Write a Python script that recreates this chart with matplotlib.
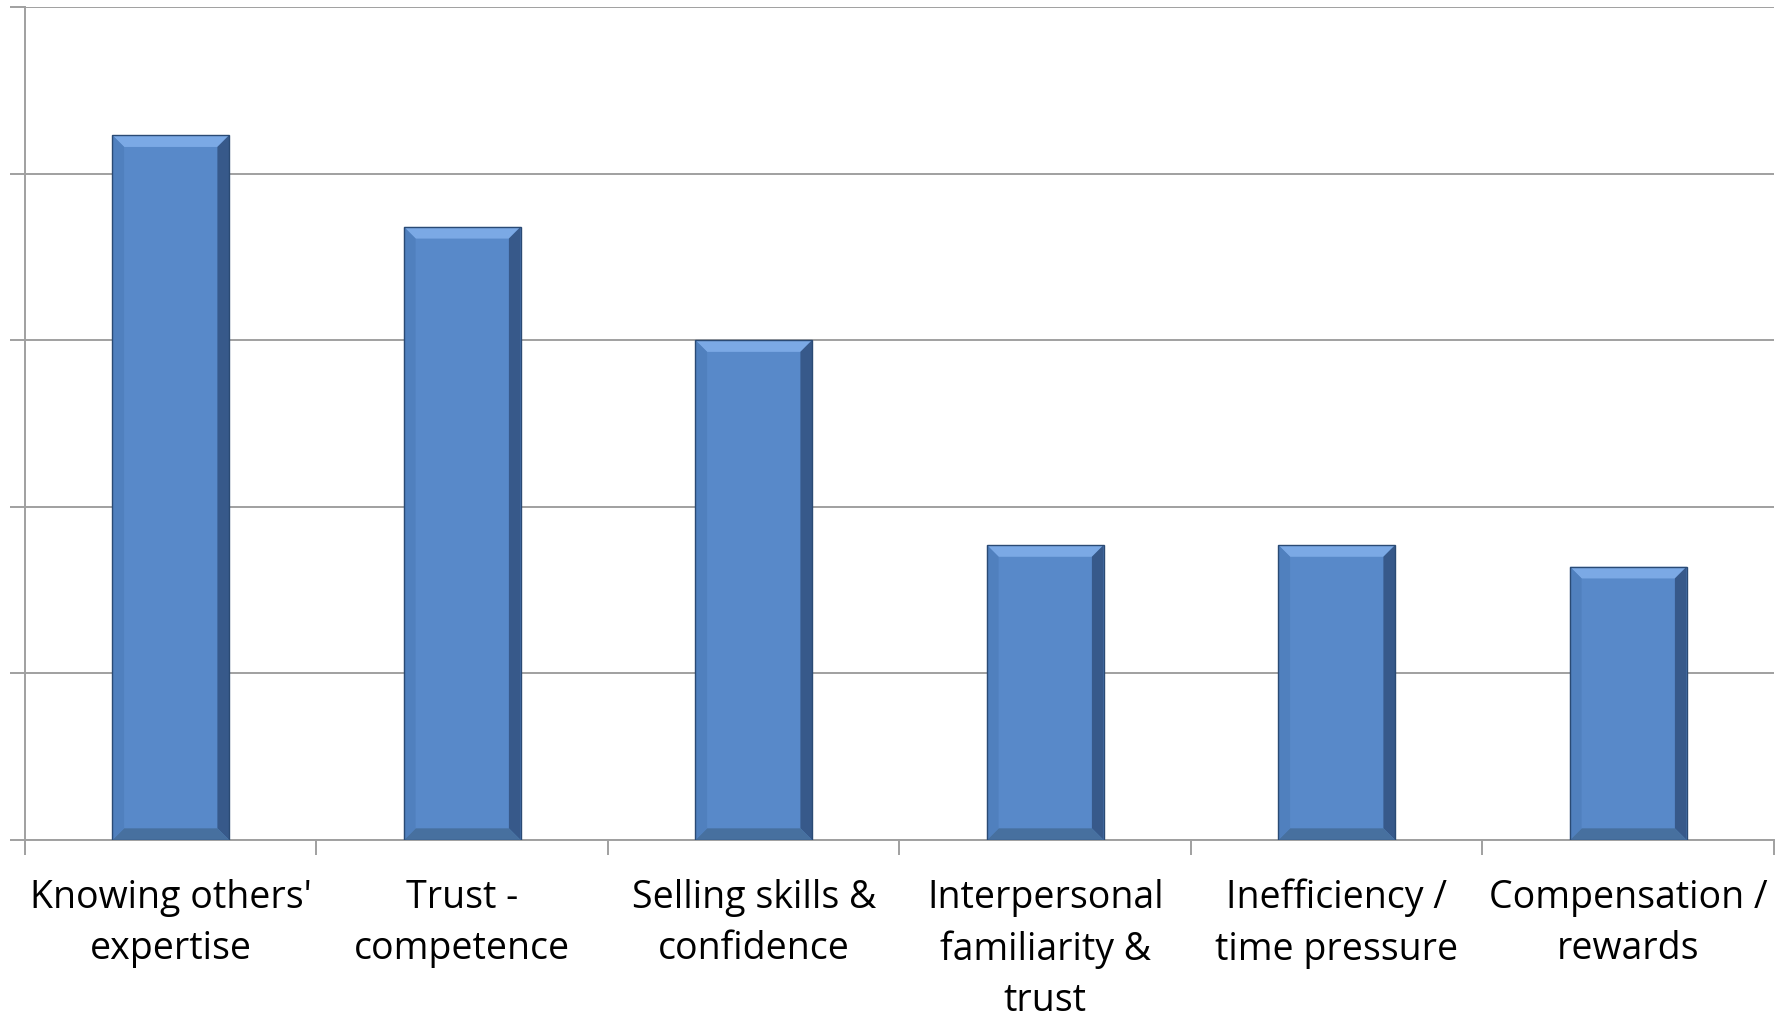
import matplotlib.pyplot as plt
from matplotlib.patches import Polygon

categories = ["Knowing others'\nexpertise", "Trust -\ncompetence", "Selling skills &\nconfidence",
              "Interpersonal\nfamiliarity &\ntrust", "Inefficiency /\ntime pressure", "Compensation /\nrewards"]
values = [42.3, 36.8, 30.0, 17.7, 17.7, 16.4]

plt.rcParams['font.family'] = ['Open Sans', 'DejaVu Sans']

fig = plt.figure(figsize=(17.83, 10.15), dpi=100)
ax = fig.add_axes([25 / 1783, 1 - 840 / 1015, 1749 / 1783, 833 / 1015])

x = range(len(values))
bars = ax.bar(x, values, width=0.40, color='#5889C9', zorder=3)

# bevel look: light top, dark right/bottom edges
bx, by = 0.04, 0.7
for b in bars:
    x0, w, h = b.get_x(), b.get_width(), b.get_height()
    x1 = x0 + w
    sides = [
        ([(x0, h), (x1, h), (x1 - bx, h - by), (x0 + bx, h - by)], '#7BA9E5'),
        ([(x1, h), (x1, 0), (x1 - bx, by), (x1 - bx, h - by)], '#37598A'),
        ([(x0, 0), (x1, 0), (x1 - bx, by), (x0 + bx, by)], '#47709F'),
        ([(x0, 0), (x0, h), (x0 + bx, h - by), (x0 + bx, by)], '#5080BE'),
    ]
    for pts, c in sides:
        ax.add_patch(Polygon(pts, closed=True, facecolor=c, edgecolor='none', zorder=4))
    ax.add_patch(Polygon([(x0, 0), (x0, h), (x1, h), (x1, 0)], closed=True, fill=False,
                         edgecolor='#2A4A74', linewidth=1.0, zorder=5))

ax.set_xlim(-0.5, len(values) - 0.5)
ax.set_ylim(0, 50)
ax.set_yticks([0, 10, 20, 30, 40, 50])
ax.set_yticklabels([])
ax.yaxis.grid(True, color='#A0A0A0', linewidth=1.4, zorder=0)

ax.set_xticks([i - 0.5 for i in range(len(values) + 1)], minor=False)
ax.set_xticklabels([])
ax.set_xticks(list(x), minor=True)
ax.set_xticklabels(categories, minor=True, fontsize=27, linespacing=1.45)
ax.tick_params(axis='x', which='major', length=11, width=1.4, color='#A0A0A0')
ax.tick_params(axis='x', which='minor', length=0, pad=28)
ax.tick_params(axis='y', length=11, width=1.4, color='#A0A0A0')

for s in ['top', 'right']:
    ax.spines[s].set_visible(False)
for s in ['left', 'bottom']:
    ax.spines[s].set_color('#A0A0A0')
    ax.spines[s].set_linewidth(1.4)

fig.savefig('out.png', dpi=100)
